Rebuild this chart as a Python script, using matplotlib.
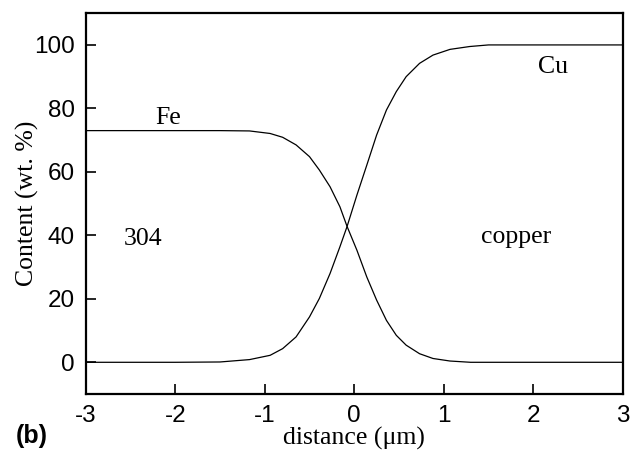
import matplotlib
matplotlib.use("Agg")
import matplotlib.pyplot as plt

plt.rcParams["axes.unicode_minus"] = False

# Data
x_fe = [-3.0, -2.0, -1.5, -1.17, -0.94, -0.80, -0.65, -0.50, -0.39, -0.27, -0.16, -0.08,
        0.03, 0.14, 0.25, 0.36, 0.47, 0.58, 0.73, 0.88, 1.07, 1.3, 2.0, 3.0]
fe = [73.0, 73.0, 73.0, 72.9, 72.1, 70.9, 68.5, 64.8, 60.6, 55.3, 49.0, 42.8,
      35.3, 26.9, 19.6, 13.2, 8.5, 5.4, 2.7, 1.2, 0.4, 0.0, 0.0, 0.0]

x_cu = [-3.0, -2.0, -1.5, -1.17, -0.94, -0.80, -0.65, -0.50, -0.39, -0.27, -0.16, -0.08,
        0.03, 0.14, 0.25, 0.36, 0.47, 0.58, 0.73, 0.88, 1.07, 1.29, 1.5, 2.0, 3.0]
cu = [0.0, 0.0, 0.1, 0.85, 2.2, 4.3, 8.0, 14.3, 20.1, 28.0, 36.4, 42.8,
      52.7, 62.1, 71.6, 79.5, 85.3, 90.0, 94.2, 96.8, 98.6, 99.5, 100.0, 100.0, 100.0]

xticks = [-3, -2, -1, 0, 1, 2, 3]
yticks = [0, 20, 40, 60, 80, 100]

fig = plt.figure(figsize=(6.4, 4.55), dpi=100)
ax = fig.add_axes([0.134, 0.134, 0.839, 0.837])

ax.plot(x_fe, fe, color="black", lw=0.9)
ax.plot(x_cu, cu, color="black", lw=0.9)

ax.set_xlim(-3, 3)
ax.set_ylim(-10, 110)
ax.set_xticks(xticks)
ax.set_yticks(yticks)
ax.tick_params(direction="in", length=7, width=1.2, labelsize=17.5, pad=8)
for lab in ax.get_xticklabels() + ax.get_yticklabels():
    lab.set_family("Liberation Sans")
for s in ax.spines.values():
    s.set_linewidth(1.6)

serif = "Liberation Serif"
ax.set_xlabel("distance (\u03bcm)", fontsize=18.5, family=serif, labelpad=0)
ax.set_ylabel("Content (wt. %)", fontsize=18.5, family=serif, labelpad=-4)

ax.text(-2.08, 77, "Fe", fontsize=18.5, family=serif, ha="center", va="center")
ax.text(-2.36, 39, "304", fontsize=18.5, family=serif, ha="center", va="center")
ax.text(2.22, 93.2, "Cu", fontsize=18.5, family=serif, ha="center", va="center")
ax.text(1.81, 39.5, "copper", fontsize=18.5, family=serif, ha="center", va="center")

fig.text(0.05, 0.042, "(b)", fontsize=18, fontweight="bold", family="Liberation Sans",
         ha="center", va="center")

fig.savefig("out.png", dpi=100)
